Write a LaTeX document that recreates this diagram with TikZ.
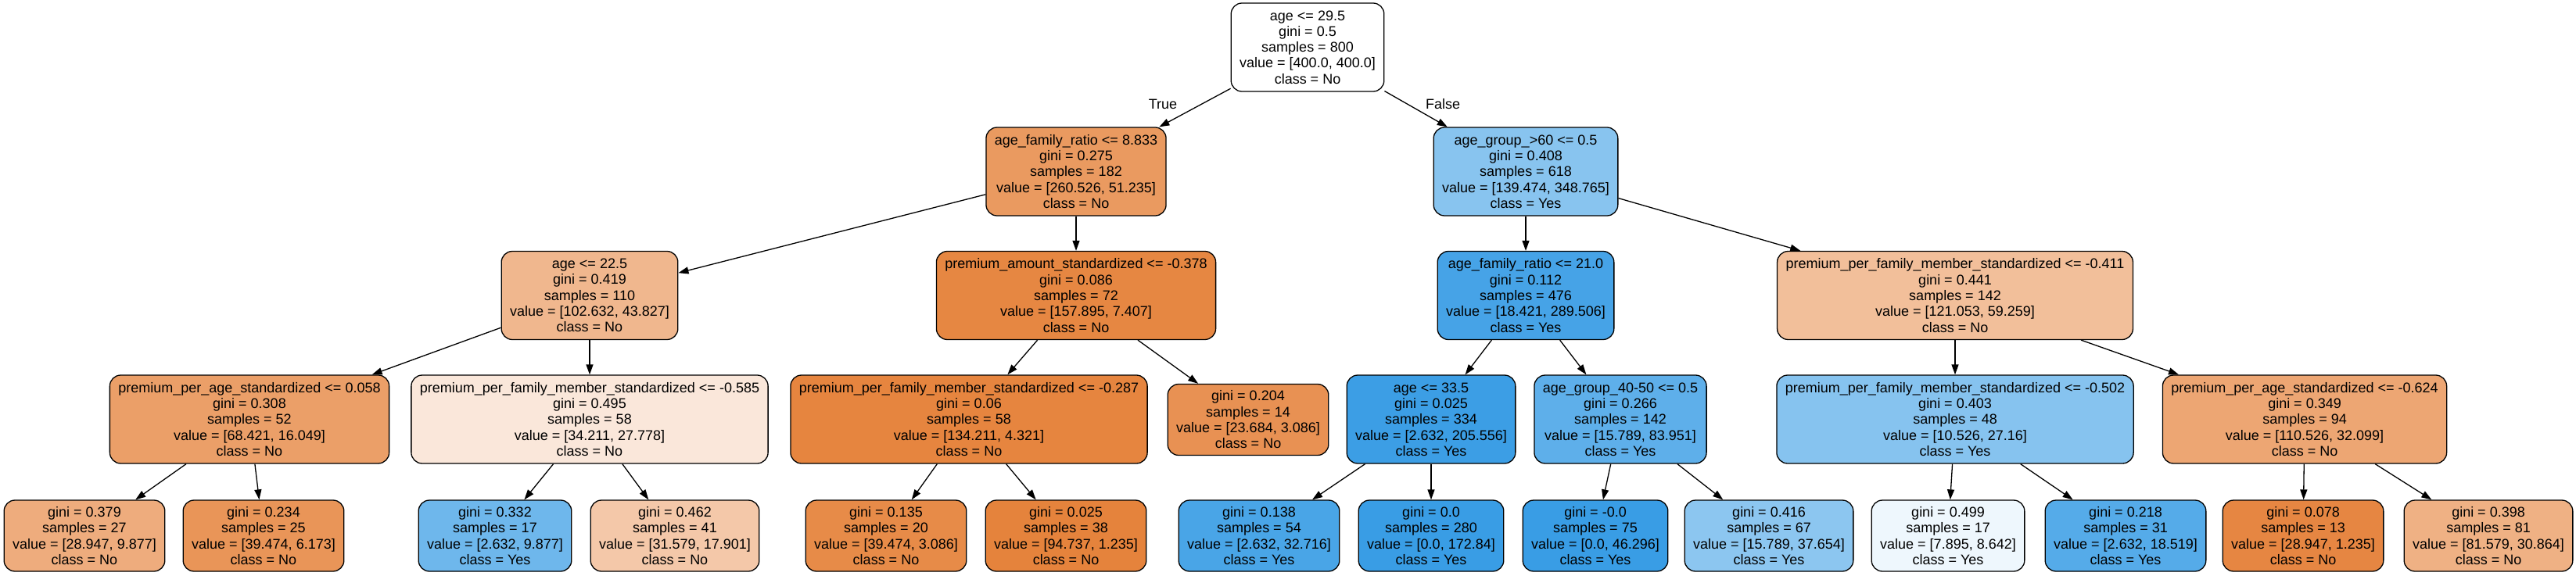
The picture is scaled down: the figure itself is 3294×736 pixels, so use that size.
\documentclass[tikz,border=0pt]{standalone}
\usepackage{fontspec}
\setmainfont{Liberation Sans}
\usetikzlibrary{arrows.meta}

\begin{document}
\begin{tikzpicture}[x=1pt,y=-1pt,
    box/.style={draw, line width=1.3pt, rounded corners=14pt, align=center,
      inner xsep=11pt, inner ysep=0pt, font=\fontsize{18}{20.3}\selectfont},
    split/.style={box, minimum height=113pt},
    leaf/.style={box, minimum height=91pt},
    edge/.style={line width=1.3pt, -{Triangle[length=13pt,width=9pt]}},
    branch/.style={font=\fontsize{18}{20.3}\selectfont}]
    \useasboundingbox (0,0) rectangle (3294,736);

    % Changing colors (orange = No, blue = Yes)
    \definecolor{r255g255b255}{RGB}{255,255,255}%
    \definecolor{r234g154b96}{RGB}{234,154,96}%
    \definecolor{r136g196b239}{RGB}{136,196,239}%
    \definecolor{r240g183b142}{RGB}{240,183,142}%
    \definecolor{r230g135b66}{RGB}{230,135,66}%
    \definecolor{r70g163b231}{RGB}{70,163,231}%
    \definecolor{r242g191b154}{RGB}{242,191,154}%
    \definecolor{r235g159b104}{RGB}{235,159,104}%
    \definecolor{r250g231b218}{RGB}{250,231,218}%
    \definecolor{r230g133b63}{RGB}{230,133,63}%
    \definecolor{r232g145b83}{RGB}{232,145,83}%
    \definecolor{r60g158b229}{RGB}{60,158,229}%
    \definecolor{r94g175b234}{RGB}{94,175,234}%
    \definecolor{r134g195b239}{RGB}{134,195,239}%
    \definecolor{r237g166b115}{RGB}{237,166,115}%
    \definecolor{r238g172b125}{RGB}{238,172,125}%
    \definecolor{r233g149b88}{RGB}{233,149,88}%
    \definecolor{r110g183b236}{RGB}{110,183,236}%
    \definecolor{r244g200b169}{RGB}{244,200,169}%
    \definecolor{r231g139b72}{RGB}{231,139,72}%
    \definecolor{r229g131b60}{RGB}{229,131,60}%
    \definecolor{r73g165b231}{RGB}{73,165,231}%
    \definecolor{r57g157b229}{RGB}{57,157,229}%
    \definecolor{r140g198b240}{RGB}{140,198,240}%
    \definecolor{r238g247b253}{RGB}{238,247,253}%
    \definecolor{r85g171b233}{RGB}{85,171,233}%
    \definecolor{r230g134b66}{RGB}{230,134,66}%
    \definecolor{r239g177b132}{RGB}{239,177,132}%

    % Root split age <= 29.5
    \node[split, fill=r255g255b255] (root) at (1672,60.5)
      {age <= 29.5\\gini = 0.5\\samples = 800\\value = [400.0, 400.0]\\class = No};

    % Level 1
    \node[split, fill=r234g154b96] (afr8833) at (1376,219.5)
      {age\_family\_ratio <= 8.833\\gini = 0.275\\samples = 182\\value = [260.526, 51.235]\\class = No};
    \node[split, fill=r136g196b239] (ag60) at (1951,219.5)
      {age\_group\_>60 <= 0.5\\gini = 0.408\\samples = 618\\value = [139.474, 348.765]\\class = Yes};

    % Level 2
    \node[split, fill=r240g183b142] (age225) at (754,378)
      {age <= 22.5\\gini = 0.419\\samples = 110\\value = [102.632, 43.827]\\class = No};
    \node[split, fill=r230g135b66] (pas378) at (1376,378)
      {premium\_amount\_standardized <= -0.378\\gini = 0.086\\samples = 72\\value = [157.895, 7.407]\\class = No};
    \node[split, fill=r70g163b231] (afr21) at (1951,378)
      {age\_family\_ratio <= 21.0\\gini = 0.112\\samples = 476\\value = [18.421, 289.506]\\class = Yes};
    \node[split, fill=r242g191b154] (ppfm411) at (2500,378)
      {premium\_per\_family\_member\_standardized <= -0.411\\gini = 0.441\\samples = 142\\value = [121.053, 59.259]\\class = No};

    % Level 3
    \node[split, fill=r235g159b104] (ppa058) at (319,536.5)
      {premium\_per\_age\_standardized <= 0.058\\gini = 0.308\\samples = 52\\value = [68.421, 16.049]\\class = No};
    \node[split, fill=r250g231b218] (ppfm585) at (754,536.5)
      {premium\_per\_family\_member\_standardized <= -0.585\\gini = 0.495\\samples = 58\\value = [34.211, 27.778]\\class = No};
    \node[split, fill=r230g133b63] (ppfm287) at (1239,536.5)
      {premium\_per\_family\_member\_standardized <= -0.287\\gini = 0.06\\samples = 58\\value = [134.211, 4.321]\\class = No};
    \node[leaf, fill=r232g145b83] (g204) at (1596,537)
      {gini = 0.204\\samples = 14\\value = [23.684, 3.086]\\class = No};
    \node[split, fill=r60g158b229] (age335) at (1830,536.5)
      {age <= 33.5\\gini = 0.025\\samples = 334\\value = [2.632, 205.556]\\class = Yes};
    \node[split, fill=r94g175b234] (ag4050) at (2072,536.5)
      {age\_group\_40-50 <= 0.5\\gini = 0.266\\samples = 142\\value = [15.789, 83.951]\\class = Yes};
    \node[split, fill=r134g195b239] (ppfm502) at (2500,536.5)
      {premium\_per\_family\_member\_standardized <= -0.502\\gini = 0.403\\samples = 48\\value = [10.526, 27.16]\\class = Yes};
    \node[split, fill=r237g166b115] (ppa624) at (2947,536.5)
      {premium\_per\_age\_standardized <= -0.624\\gini = 0.349\\samples = 94\\value = [110.526, 32.099]\\class = No};

    % Level 4 (leaves)
    \node[leaf, fill=r238g172b125] (l379) at (108,685.5)
      {gini = 0.379\\samples = 27\\value = [28.947, 9.877]\\class = No};
    \node[leaf, fill=r233g149b88] (l234) at (337,685.5)
      {gini = 0.234\\samples = 25\\value = [39.474, 6.173]\\class = No};
    \node[leaf, fill=r110g183b236] (l332) at (633,685.5)
      {gini = 0.332\\samples = 17\\value = [2.632, 9.877]\\class = Yes};
    \node[leaf, fill=r244g200b169] (l462) at (863,685.5)
      {gini = 0.462\\samples = 41\\value = [31.579, 17.901]\\class = No};
    \node[leaf, fill=r231g139b72] (l135) at (1133,685.5)
      {gini = 0.135\\samples = 20\\value = [39.474, 3.086]\\class = No};
    \node[leaf, fill=r229g131b60] (l025) at (1363,685.5)
      {gini = 0.025\\samples = 38\\value = [94.737, 1.235]\\class = No};
    \node[leaf, fill=r73g165b231] (l138) at (1610,685.5)
      {gini = 0.138\\samples = 54\\value = [2.632, 32.716]\\class = Yes};
    \node[leaf, fill=r57g157b229] (l00) at (1830,685.5)
      {gini = 0.0\\samples = 280\\value = [0.0, 172.84]\\class = Yes};
    \node[leaf, fill=r57g157b229] (lm00) at (2040,685.5)
      {gini = -0.0\\samples = 75\\value = [0.0, 46.296]\\class = Yes};
    \node[leaf, fill=r140g198b240] (l416) at (2262,685.5)
      {gini = 0.416\\samples = 67\\value = [15.789, 37.654]\\class = Yes};
    \node[leaf, fill=r238g247b253] (l499) at (2491,685.5)
      {gini = 0.499\\samples = 17\\value = [7.895, 8.642]\\class = Yes};
    \node[leaf, fill=r85g171b233] (l218) at (2718,685.5)
      {gini = 0.218\\samples = 31\\value = [2.632, 18.519]\\class = Yes};
    \node[leaf, fill=r230g134b66] (l078) at (2945,685.5)
      {gini = 0.078\\samples = 13\\value = [28.947, 1.235]\\class = No};
    \node[leaf, fill=r239g177b132] (l398) at (3182,685.5)
      {gini = 0.398\\samples = 81\\value = [81.579, 30.864]\\class = No};

    % Drawing edges
    \draw[edge] (root) -- (afr8833);
    \draw[edge] (root) -- (ag60);
    \draw[edge] (afr8833) -- (age225);
    \draw[edge] (afr8833) -- (pas378);
    \draw[edge] (ag60) -- (afr21);
    \draw[edge] (ag60) -- (ppfm411);
    \draw[edge] (age225) -- (ppa058);
    \draw[edge] (age225) -- (ppfm585);
    \draw[edge] (pas378) -- (ppfm287);
    \draw[edge] (pas378) -- (g204);
    \draw[edge] (afr21) -- (age335);
    \draw[edge] (afr21) -- (ag4050);
    \draw[edge] (ppfm411) -- (ppfm502);
    \draw[edge] (ppfm411) -- (ppa624);
    \draw[edge] (ppa058) -- (l379);
    \draw[edge] (ppa058) -- (l234);
    \draw[edge] (ppfm585) -- (l332);
    \draw[edge] (ppfm585) -- (l462);
    \draw[edge] (ppfm287) -- (l135);
    \draw[edge] (ppfm287) -- (l025);
    \draw[edge] (age335) -- (l138);
    \draw[edge] (age335) -- (l00);
    \draw[edge] (ag4050) -- (lm00);
    \draw[edge] (ag4050) -- (l416);
    \draw[edge] (ppfm502) -- (l499);
    \draw[edge] (ppfm502) -- (l218);
    \draw[edge] (ppa624) -- (l078);
    \draw[edge] (ppa624) -- (l398);

    % Branch labels
    \node[branch] (truelabel) at (1487,133) {True};
    \node[branch] (falselabel) at (1845,133) {False};
\end{tikzpicture}
\end{document}
